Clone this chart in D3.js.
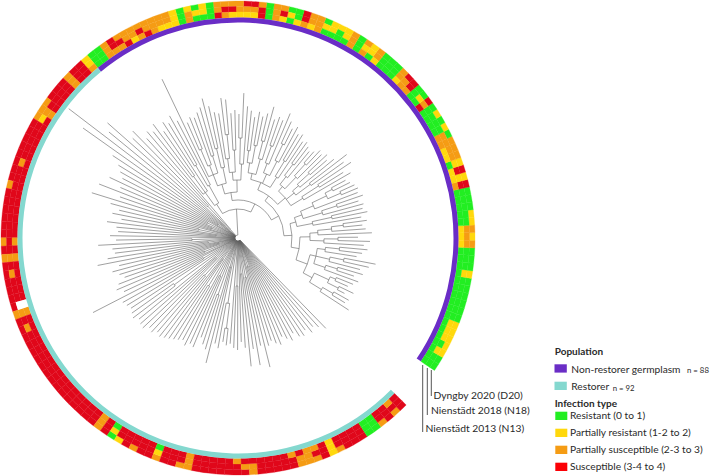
<!DOCTYPE html>
<html><head><meta charset="utf-8">
<script src="https://cdn.jsdelivr.net/npm/d3@7"></script>
<style>html,body{margin:0;background:#fff}svg{display:block}text{font-family:Lato,"Open Sans",sans-serif;fill:#2a2a2a}</style>
</head><body><svg id="c" width="711" height="476"></svg>
<script>
// Heat cells per accession: three characters = outer, middle, inner ring
const nonRestorerCells = ["GGG","GGG","YYG","YGG","YYG","YYG","YYG","GGG","GGG","GGG","GGG","GGG","GGG","YYG","GGG","GGG","GGG","OOY","YOY","OOY","YGG","YGG","GGG","GGG","GGG","RRO","YYY","RRY","YYG","OOY","OOY","OOO","GOO","YGG","GGG","YGG","GGG","ROR","GYG","GGG","RRO","ROO","OOY","GGG","GGG","GGG","OOY","YYG","OYO","GGG","OOO","YYG","YGG","YYG","GYG","OOO","OOY","RRO","GGY","GYG","ORY","OOO","GGG","ORR","ROY","ROY","OOY","ORY","ORO","OOR","GGG","YYG","GYG","YOO","GGG","YYY","OOY","OOY","OOO","OOR","ORO","OOY","OOR","ORO","RRO","OOO","GGG","GGG"];
const restorerCells = ["YYO","RRR","RRR","OOO","RRR","RRR","RRR","ORR","OOO","OYR","RRR","RRR","RRR","RRR","RRR","ROR","RRR","RRR","ORR","RRR","RRR","RRR","RRR","RRR","RRR","ORO","RRR","OOO","RRR","ROR","RRR","RRR","RRR","RWW","OOO","RRR","ROR","RRR","RRR","RRR","RRR","RRR","RRR","RRR","RRR","RRR","RRR","RRR","RRR","RRR","RRR","OOO","RRR","GYG","YRR","RRR","ORR","RRR","RRR","OYG","RRR","RRR","ORR","OOO","RRR","RRR","RRR","RRR","RRR","RRO","ROR","OOR","RRR","RRR","RRR","RRR","RRO","OOR","OOO","ORO","RRR","YYY","ORR","RRR","RRR","RRR","GGG","GGG","ORR","RRR","ORO","RRR"];
const nonRestorerTips = [132,125,127,120,128,120,124,128,122,130,126,134,140,120,125,130,126,132,120,134,128,125,130,125,132,128,130,126,132,128,130,128,125,122,130,124,136,130,137,124,118,122,118,120,115,112,115,118,116,122,120,126,122,128,135,126,128,124,136,128,124,128,122,128,132,145,124,128,125,139,141,126,128,135,144,136,132,128,130,126,176,132,140,134,138,130,142,136];
const restorerTips = [140,135,150,145,174,167,213,190,150,140,135,130,142,128,149,125,153,132,122,128,118,132,122,120,128,122,140,126,124,132,143,122,130,124,120,128,132,126,163,132,130,128,130,132,128,130,131,126,128,124,126,124,122,120,118,116,120,116,118,106,112,116,129,108,112,105,108,106,110,112,104,110,129,112,129,110,133,112,108,112,115,108,112,116,110,116,118,114,120,116,120,126];
// Tree clades: [node height, ...children]; plain numbers are tips (non-restorers 0-87, restorers 88-179)
const cladeRight = [54,[62,[74,[84,[98,0,[110,1,2]],[100,[112,3,4],[106,5,6]]],[80,[92,7,[104,8,9]],[94,10,[108,11,12]],[88,13,[102,14,15]]]],[72,[86,16,[100,17,18]],[80,19,[94,20,[106,21,22]]]]],[60,[76,23,[96,24,25]],[68,[88,26,[104,27,28]],[82,29,[98,[112,30,31],[106,32,33]]]]]];
const cladeMiddle = [52,[62,[76,34,[96,35,36]],[72,[90,37,38],[80,39,[96,40,41]]],[68,[84,42,[100,43,44]],[78,45,[92,46,47]]]],[60,[72,48,[90,49,50]],[70,[86,51,[104,52,53]],[80,54,[98,55,56]]],[66,[82,57,[100,58,59]],[76,[94,60,61],[88,62,63]]]]];
const cladeUpper = [46,[58,[74,64,[100,65,66]],[66,[88,67,68],[80,[104,69,70],71]]],[56,[72,72,[92,73,74]],[68,[86,75,76],[78,77,[96,78,79]],80]]];
const cladeLeft = [40,[60,81,[84,82,83]],[56,84,[76,85,86],87]];
const cladeBackbone = [29,cladeLeft,[38,cladeUpper,[46,cladeMiddle,cladeRight]]];
const cladeRoot = [3,cladeBackbone,[12,88,[44,89,90]],[18,91,92],93,94,[24,95,96],97,98,[34,99,100],101,[28,102,103],104,105,[40,106,107],108,[22,109,110],111,112,[46,113,114],115,[30,116,117],118,119,[20,120,121],122,[36,123,124],125,126,[40,127,128],129,[79,130,131],132,[30,133,134],135,[50,136,137],138,[26,139,140],[56,141,142],143,[42,144,145],146,[60,147,148],[30,149,150],151,[66,152,[91,153,154]],155,[48,156,157],158,[36,159,160],161,[40,162,163],164,165,[30,166,167],168,169,170,171,172,173,174,175,176,177,178,179];
const infectionColors = {G:"#22ee22",Y:"#ffd80c",O:"#f59c14",R:"#e0071a",W:"#ffffff"};
const populationLegend = [["Non-restorer germplasm","n = 88","#6a2dc6"],["Restorer","n = 92","#84d8cf"]];
const infectionLegend = [["Resistant (0 to 1)","#22ee22"],["Partially resistant (1-2 to 2)","#ffd80c"],["Partially susceptible (2-3 to 3)","#f59c14"],["Susceptible (3-4 to 4)","#fb0006"]];
const fieldLabels = ["Dyngby 2020 (D20)","Nienstädt 2018 (N18)","Nienstädt 2013 (N13)"];

const svg = d3.select("#c");
const cx=238, cy=238, rad=Math.PI/180;
const g = svg.append("g").attr("transform",`translate(${cx},${cy})`);
const angleNR = d3.scaleBand().domain(d3.range(88)).range([124,-39.5]);
const angleR = d3.scaleBand().domain(d3.range(92)).range([-39.5,-225.2]);
const rowR = d3.scaleBand().domain([0,1,2]).range([237,220.5]);
const arc = d3.arc();
function drawRing(cells,scale){
  const cg=g.append("g");
  const cellPath=(i,row)=>{const a0=scale(i),ri=rowR(row);
    return arc({innerRadius:ri,outerRadius:ri+rowR.bandwidth(),startAngle:a0*rad,endAngle:(a0+scale.bandwidth())*rad});};
  cells.forEach((c,i)=>{[...c].forEach((k,row)=>{
    if(k==="W") return;
    cg.append("path").attr("fill",infectionColors[k]).attr("stroke",infectionColors[k]).attr("stroke-width",.3).attr("d",cellPath(i,row));
  });});
  cells.forEach((c,i)=>{[...c].forEach((k,row)=>{
    if(k==="W") cg.append("path").attr("fill","#fff").attr("d",cellPath(i,row));
  });});
}
drawRing(nonRestorerCells,angleNR); drawRing(restorerCells,angleR);
g.append("path").attr("fill",populationLegend[0][2]).attr("d",arc({innerRadius:215.5,outerRadius:220.5,startAngle:-39.5*rad,endAngle:124*rad}));
g.append("path").attr("fill",populationLegend[1][2]).attr("d",arc({innerRadius:215.5,outerRadius:220.5,startAngle:-225.2*rad,endAngle:-39.5*rad}));

// Tree
const rScale = d3.scaleLinear().domain([0,220]).range([0,220]);
const tipAngle = id => id<88 ? angleNR(id)+angleNR.bandwidth()/2 : angleR(id-88)+angleR.bandwidth()/2;
const tipR = id => id<88 ? nonRestorerTips[id] : restorerTips[id-88];
const root = d3.hierarchy(cladeRoot, d=>Array.isArray(d)?d.slice(1):null);
root.eachAfter(n=>{
  if(n.children){n.h=n.data[0];const as=n.children.map(c=>c.a);n.a0=d3.min(as);n.a1=d3.max(as);n.a=(n.a0+n.a1)/2;}
  else{n.h=tipR(n.data);n.a=tipAngle(n.data);}
});
const pt=(a,r)=>[rScale(r)*Math.sin(a*rad),-rScale(r)*Math.cos(a*rad)];
const p=d3.path();
root.each(n=>{
  if(n.parent){const A=pt(n.a,n.parent.h),B=pt(n.a,n.h);p.moveTo(...A);p.lineTo(...B);}
  if(n.children){const A=pt(n.a0,n.h);p.moveTo(...A);p.arc(0,0,rScale(n.h),(n.a0-90)*rad,(n.a1-90)*rad);}
});
g.append("path").attr("d",p.toString()).attr("fill","none").attr("stroke","#5f5f5f").attr("stroke-width",.6);

// Field labels
const labelGeom=[[431.3,370,396,433.5,400],[427.3,368,415,431,415],[422.7,365,432,425.5,433]];
labelGeom.forEach((l,i)=>{
  svg.append("line").attr("x1",l[0]).attr("x2",l[0]).attr("y1",l[1]).attr("y2",l[2]).attr("stroke","#555").attr("stroke-width",1);
  svg.append("text").attr("x",l[3]).attr("y",l[4]-1).attr("font-size",10.3).text(fieldLabels[i]);
});
// Legend
const L=svg.append("g");
const head=(t,y)=>L.append("text").attr("x",554.7).attr("y",y).attr("font-size",10).attr("font-weight",700).attr("fill","#111").text(t);
head("Population",355); head("Infection type",407);
populationLegend.forEach((d,i)=>{const y=[364.3,381.7][i];
  L.append("rect").attr("x",554.5).attr("y",y).attr("width",12.3).attr("height",8.3).attr("fill",d[2]);
  L.append("text").attr("x",571.3).attr("y",y+8.3).attr("font-size",10.2).text(d[0]);
  L.append("text").attr("x",[687,612.7][i]).attr("y",y+9).attr("font-size",7.8).text(d[1]);
});
infectionLegend.forEach((d,i)=>{const y=411.7+i*17;
  L.append("rect").attr("x",555.3).attr("y",y).attr("width",12).attr("height",8.3).attr("fill",d[1]);
  L.append("text").attr("x",570).attr("y",y+7.5).attr("font-size",10.2).text(d[0]);
});
</script></body></html>
